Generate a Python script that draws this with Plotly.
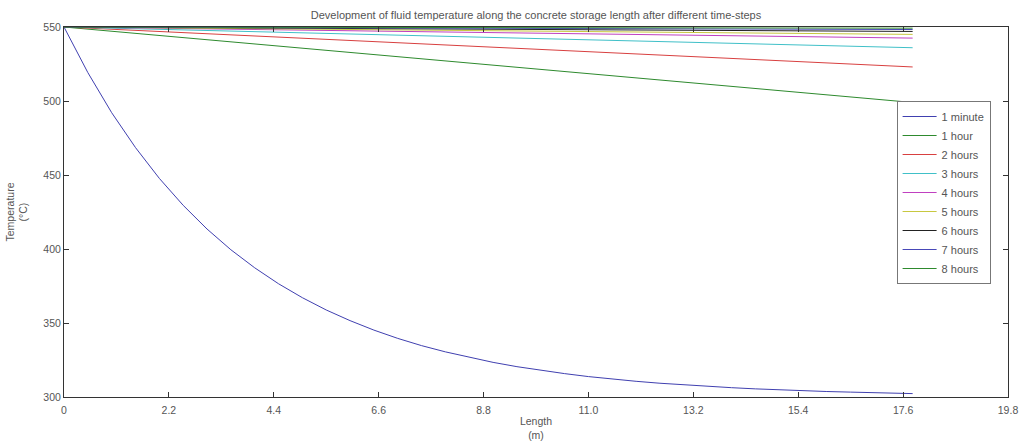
import plotly.graph_objects as go

# ---- data ----
length_1min = [0, 0.5, 1.0, 1.5, 2.0, 2.5, 3.0, 3.5, 4.0, 4.5, 5.0, 5.5, 6.0, 6.5, 7.0,
               7.5, 8.0, 8.5, 9.0, 9.5, 10.0, 10.5, 11.0, 11.5, 12.0, 12.5, 13.0,
               13.5, 14.0, 14.5, 15.0, 15.5, 16.0, 16.5, 17.0, 17.5, 17.8]
temp_1min = [550, 519.2, 492.1, 468.5, 447.7, 429.5, 413.5, 399.5, 387.3, 376.5, 367.1,
             358.8, 351.6, 345.2, 339.6, 334.7, 330.5, 326.7, 323.4, 320.5, 318.0, 315.8,
             313.8, 312.1, 310.6, 309.3, 308.2, 307.2, 306.3, 305.5, 304.8, 304.2, 303.7,
             303.3, 302.9, 302.5, 302.3]

length_hours = [0, 4.45, 8.9, 13.35, 17.8]
temp_1h = [550, 537.2, 524.4, 511.6, 499.0]
temp_2h = [550, 543.2, 536.5, 529.8, 523.0]
temp_3h = [550, 546.5, 543.0, 539.5, 536.0]
temp_4h = [550, 548.1, 546.2, 544.4, 542.5]
temp_5h = [550, 548.8, 547.5, 546.3, 545.0]
temp_6h = [550, 549.2, 548.5, 547.8, 547.0]
temp_7h = [550, 549.6, 549.2, 548.7, 548.3]
temp_8h = [550, 549.8, 549.6, 549.4, 549.2]

series_names = ["1 minute", "1 hour", "2 hours", "3 hours", "4 hours",
                "5 hours", "6 hours", "7 hours", "8 hours"]
series_colors = ["#4040b0", "#2e8a2e", "#d84040", "#40c0c8", "#c040c0",
                 "#c8c840", "#222222", "#4848b8", "#2e8a2e"]

x_ticks = [0, 2.2, 4.4, 6.6, 8.8, 11.0, 13.2, 15.4, 17.6, 19.8]
x_tick_labels = ["0", "2.2", "4.4", "6.6", "8.8", "11.0", "13.2", "15.4", "17.6", "19.8"]
y_ticks = [300, 350, 400, 450, 500, 550]

fig = go.Figure()
all_y = [temp_1min, temp_1h, temp_2h, temp_3h, temp_4h, temp_5h, temp_6h, temp_7h, temp_8h]
for i, (name, col, ys) in enumerate(zip(series_names, series_colors, all_y)):
    xs = length_1min if i == 0 else length_hours
    fig.add_trace(go.Scatter(x=xs, y=ys, mode="lines", name=name,
                             line=dict(color=col, width=1)))

FAM = "Liberation Sans, Arial, sans-serif"
font = dict(family=FAM, size=10.5, color="#555")
axis_common = dict(showgrid=False, zeroline=False, showline=True, linecolor="#333",
                   linewidth=1, mirror="ticks", ticks="inside", ticklen=5,
                   tickcolor="#333", tickfont=font, automargin=False)

fig.update_layout(
    width=1034, height=441,
    margin=dict(l=64, r=26, t=27, b=44),
    paper_bgcolor="white", plot_bgcolor="white",
    font=font,
    title=dict(text="Development of fluid temperature along the concrete storage length after different time-steps",
               x=0.5, xref="paper", xanchor="center", y=0.966, yanchor="middle", automargin=False,
               font=dict(family=FAM, size=11, color="#555")),
    xaxis=dict(range=[0, 19.8], tickvals=x_ticks, ticktext=x_tick_labels,
               ticklabelstandoff=3,
               title=dict(text="Length<br>(m)", font=font, standoff=5), **axis_common),
    yaxis=dict(range=[300, 550], tickvals=y_ticks,
               title=dict(text="Temperature<br>(°C)", font=font, standoff=13), **axis_common),
    legend=dict(x=0.882, y=0.80, xanchor="left", yanchor="top",
                bordercolor="#777", borderwidth=1, bgcolor="white",
                font=dict(family=FAM, size=11, color="#555"),
                tracegroupgap=0, itemwidth=34),
    showlegend=True,
)

fig.write_html("out.html")
